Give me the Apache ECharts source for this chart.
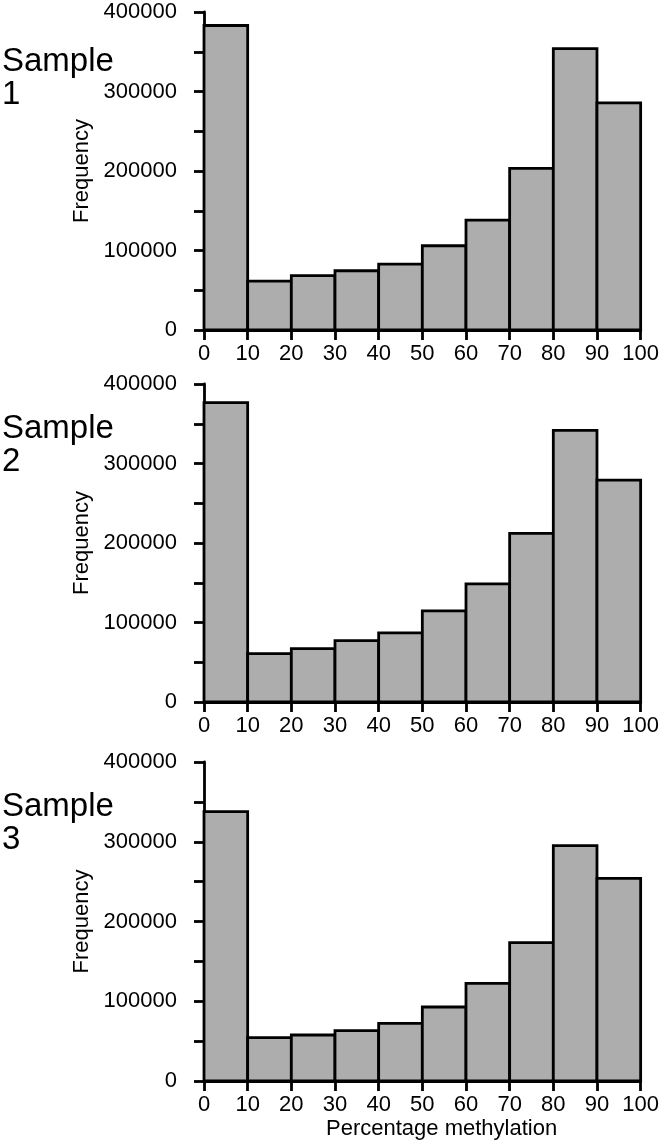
<!DOCTYPE html>
<html>
<head>
<meta charset="utf-8">
<script src="https://cdn.jsdelivr.net/npm/echarts@6/dist/echarts.min.js"></script>
<style>
html,body{margin:0;padding:0;background:#fff;}
#hist{width:662px;height:1147px;}
</style>
</head>
<body>
<div id="hist"></div>
<script>
// bin edges (percentage methylation)
var bin_lo = [0, 10, 20, 30, 40, 50, 60, 70, 80, 90];
var bin_hi = [10, 20, 30, 40, 50, 60, 70, 80, 90, 100];

// frequency per bin
var sample1 = [383000, 61600, 68300, 74500, 82900, 106000, 138200, 203200, 354000, 285600];
var sample2 = [376500, 60900, 67200, 77200, 86900, 114600, 148600, 212000, 341700, 279100];
var sample3 = [337700, 54300, 57700, 63100, 72300, 92800, 122500, 173500, 295100, 254100];

var sample_names = ['Sample\n1', 'Sample\n2', 'Sample\n3'];
var y_ticks_max = 400000;

var panel_top = [12, 384, 762];
var panel_h = [318, 318, 319];
var label_top = [45, 412, 790];

function make_data(vals){
    var out = [];
    for(var i=0;i<vals.length;i++){
        out.push([bin_lo[i], bin_hi[i], vals[i]]);
    }
    return out;
}

function renderBin(params, api){
    var lo = api.value(0);
    var hi = api.value(1);
    var v = api.value(2);
    var p0 = api.coord([lo, 0]);
    var p1 = api.coord([hi, v]);
    return {
        type: 'rect',
        shape: {x: p0[0], y: p1[1], width: p1[0]-p0[0], height: p0[1]-p1[1]},
        style: {fill: '#adadad', stroke: '#000', lineWidth: 2.8}
    };
}

var font = 'Liberation Sans, Arial, sans-serif';
var all = [sample1, sample2, sample3];
var grids = [], xAxes = [], yAxes = [], series = [], graphics = [];

for(var k=0;k<3;k++){
    grids.push({left: 204, width: 438, top: panel_top[k], height: panel_h[k]});
    xAxes.push({
        type: 'value', gridIndex: k, min: 0, max: 100, interval: 10,
        axisLine: {show: true, lineStyle: {color: '#000', width: 2.8}},
        axisTick: {show: true, length: 10, lineStyle: {color: '#000', width: 2.8}},
        axisLabel: {color: '#000', fontSize: 22, fontFamily: font, margin: 13},
        splitLine: {show: false}
    });
    yAxes.push({
        type: 'value', gridIndex: k, min: 0, max: y_ticks_max, interval: 50000,
        offset: 11,
        name: 'Frequency', nameLocation: 'middle', nameGap: 92, nameRotate: 90,
        nameTextStyle: {color: '#000', fontSize: 22, fontFamily: font},
        axisLine: {show: true, lineStyle: {color: '#000', width: 2.8}},
        axisTick: {show: true, length: 10, lineStyle: {color: '#000', width: 2.8}},
        axisLabel: {
            color: '#000', fontSize: 22, fontFamily: font, margin: 16,
            formatter: function(v){ return (v % 100000 == 0) ? String(v) : ''; }
        },
        splitLine: {show: false}
    });
    series.push({
        type: 'custom', xAxisIndex: k, yAxisIndex: k,
        renderItem: renderBin,
        encode: {x: [0, 1], y: 2},
        data: make_data(all[k])
    });
    // sample label on the left
    graphics.push({
        type: 'text', left: 2, top: label_top[k],
        style: {text: sample_names[k], fontSize: 33, lineHeight: 33, fontFamily: font, fill: '#000'}
    });
}

graphics.push({
    type: 'text', left: 326, top: 1118,
    style: {text: 'Percentage methylation', fontSize: 22, fontFamily: font, fill: '#000'}
});

var myChart = echarts.init(document.getElementById('hist'));
var option = {
    animation: false,
    grid: grids,
    xAxis: xAxes,
    yAxis: yAxes,
    series: series,
    graphic: graphics
};
myChart.setOption(option);
</script>
</body>
</html>
